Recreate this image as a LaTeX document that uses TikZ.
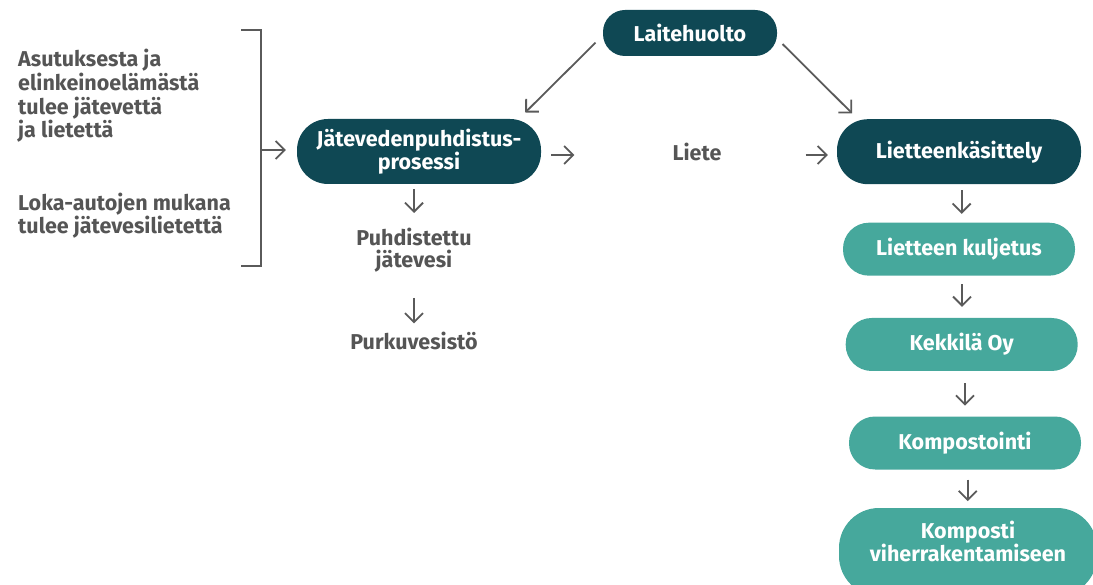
\documentclass[tikz,border=0pt]{standalone}
\usepackage{fontspec}
\setmainfont{Fira Sans}
\usetikzlibrary{arrows.meta}
\definecolor{dark}{HTML}{0F4854}
\definecolor{light}{HTML}{46A89C}
\definecolor{txt}{HTML}{555555}
\definecolor{arrc}{HTML}{5A5A5A}
\tikzset{
  boxbase/.style={font=\bfseries\fontsize{21.5}{23}\selectfont, text=white, align=center, inner sep=0pt},
  darkbox/.style={boxbase, fill=dark},
  lightbox/.style={boxbase, fill=light},
  lbl/.style={font=\bfseries\fontsize{21.5}{22}\selectfont, text=txt, align=center, inner sep=0pt},
  lbll/.style={text=txt, align=left, inner sep=0pt, anchor=north west},
  arr/.style={draw=arrc, line width=1.8pt, -{Straight Barb[length=9pt,width=18pt,line width=1.8pt]}},
  brk/.style={draw=arrc, line width=1.8pt}
}
\begin{document}
\begin{tikzpicture}[x=1pt,y=-1pt]
\useasboundingbox (0,0) rectangle (1093,585);
\clip (0,0) rectangle (1093,585);
% boxes
\node[darkbox, minimum width=174pt, minimum height=46pt, rounded corners=22pt] (lait) at (690,33) {Laitehuolto};
\node[darkbox, minimum width=244pt, minimum height=65pt, rounded corners=31pt] (jat) at (419,151.5) {Jätevedenpuhdistus-\\prosessi};
\node[lbl] (liete) at (697,152) {Liete};
\node[darkbox, minimum width=244pt, minimum height=65pt, rounded corners=31pt] (liet) at (959,151.7) {Lietteenkäsittely};
\node[lightbox, minimum width=232pt, minimum height=53pt, rounded corners=26pt] (kulj) at (959,249.2) {Lietteen kuljetus};
\node[lightbox, minimum width=232pt, minimum height=53pt, rounded corners=26pt] (kek) at (961.7,344.5) {Kekkilä Oy};
\node[lightbox, minimum width=232pt, minimum height=53pt, rounded corners=26pt] (komp) at (965,443) {Kompostointi};
\node[lightbox, font=\bfseries\fontsize{21.5}{23.5}\selectfont, minimum width=258pt, minimum height=88pt, rounded corners=40pt] (kv) at (968,552) {Komposti\\viherrakentamiseen\rule[-21pt]{0pt}{21pt}};
% left texts
\node[lbll, font=\bfseries\fontsize{21.5}{23.7}\selectfont] (t1) at (18,49) {Asutuksesta ja\\elinkeinoelämästä\\tulee jätevettä\\ja lietettä};
\node[lbll, font=\bfseries\fontsize{21.5}{21.5}\selectfont] (t2) at (18,193) {Loka-autojen mukana\\tulee jätevesilietettä};
\node[lbl] (puhd) at (414,250.5) {Puhdistettu\\jätevesi};
\node[lbl] (purk) at (414,340.5) {Purkuvesistö};
% bracket
\coordinate (b1) at (241,30);
\coordinate (b2) at (261,30);
\coordinate (b3) at (261,266);
\coordinate (b4) at (241,266);
\coordinate (bm) at (261,150);
\draw[brk] (b1) -- (b2) -- (b3) -- (b4);
\draw[arr, shorten >=11pt] (bm) -- (bm -| jat.west);
% arrows
\draw[arr, shorten <=10pt, shorten >=98pt] (jat.east |- 0,155) -- (liete.west |- 0,155);
\draw[arr, shorten <=84pt, shorten >=9pt] (liete.east |- 0,155) -- (liet.west |- 0,155);
\draw[arr] ([shift={(-7.3,9.7)}]lait.west) -- ([shift={(-16,-6.3)}]jat.north east);
\draw[arr] ([shift={(5.3,11)}]lait.east) -- ([shift={(15.3,-5.7)}]liet.north west);
\draw[arr, shorten <=5pt] (puhd.north |- jat.south) -- (414,213);
\coordinate (pk) at (414,298);
\draw[arr, shorten >=8pt] (pk) -- (purk.north);
\draw[arr, shorten <=6pt, shorten >=8.7pt] (liet.south -| 961.7,0) -- (kulj.north -| 961.7,0);
\draw[arr, shorten <=8.3pt, shorten >=11pt] (kulj.south -| 962,0) -- (kek.north -| 962,0);
\draw[arr, shorten <=12pt, shorten >=10.7pt] (kek.south -| 965,0) -- (komp.north -| 965,0);
\draw[arr, shorten <=10pt, shorten >=6.7pt] (komp.south -| 967.7,0) -- (kv.north -| 967.7,0);
\end{tikzpicture}
\end{document}
